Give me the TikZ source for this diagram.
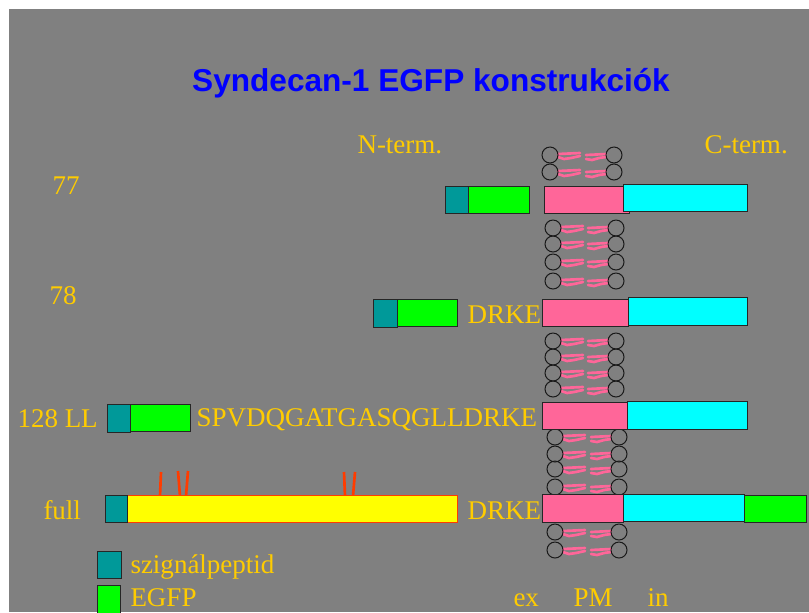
\documentclass[tikz,border=0pt]{standalone}
\usepackage{fontspec}
\setmainfont{Liberation Serif}
\newfontfamily\headfont{Liberation Sans}

\definecolor{slidegray}{RGB}{128,128,128}
\definecolor{gold}{RGB}{255,204,0}
\definecolor{sigteal}{RGB}{0,153,153}
\definecolor{egfpgreen}{RGB}{0,255,0}
\definecolor{tmpink}{RGB}{255,102,153}
\definecolor{cytocyan}{RGB}{0,255,255}
\definecolor{ectoyellow}{RGB}{255,255,0}
\definecolor{gagred}{RGB}{255,60,0}

\tikzset{every picture/.style={line width=0.75pt}}

\begin{document}
\begin{tikzpicture}[x=0.75pt,y=0.75pt,yscale=-1,xscale=1,
  lbl/.style={text=gold, font=\fontsize{20.25}{24}\selectfont, inner sep=0pt, anchor=base west},
  dom/.style={draw=black!85, line width=0.75pt},
  head/.style={draw=black!90, line width=0.75pt},
  tail/.style={draw=tmpink, line width=2pt, line join=round, line cap=round}]
	\useasboundingbox (0,0) rectangle (809,612);

	%Shape: Rectangle (slide)
	\fill [white] (0,0) rectangle (809,612);
	\fill [slidegray] (9,9) rectangle (809,612);

	% Text Node
	\node [text={rgb,255:red,0;green,0;blue,255}, font=\headfont\bfseries\fontsize{23.7}{28}\selectfont, inner sep=0pt] (title) at (431,83) {Syndecan-1 EGFP konstrukciók};
	% Text Node
	\node [lbl] (nterm) at (357,153) {N-term.};
	% Text Node
	\node [lbl] (cterm) at (704,153) {C-term.};

	%Membrane: lipid heads and tails
	\foreach \y/\xl/\xr in {155/550/614, 172/550/614,
	                        228/553/616, 244/553/616, 262/553/616, 281/553/616,
	                        341/553/616, 357/553/616, 373/553/616, 389/553/616,
	                        437/555/619, 454/555/619, 469/555/619, 487/555/619,
	                        532/555/619, 550/555/619} {
	  \draw [tail] (\xl+8,\y-1) -- (\xl+30,\y-2) ;
	  \draw [tail] (\xl+8,\y+2) -- (\xl+14,\y+4) -- (\xl+21,\y+3) -- (\xl+30,\y+1) ;
	  \draw [tail] (\xr-8,\y-1) -- (\xr-28,\y) ;
	  \draw [tail] (\xr-8,\y+2) -- (\xr-15,\y+3) -- (\xr-22,\y+5) -- (\xr-28,\y+4) ;
	  \draw [head] (\xl,\y) circle [radius=8] ;
	  \draw [head] (\xr,\y) circle [radius=8] ;
	}

	%Row 77
	\node [lbl] (c77) at (52,194) {77};
	\draw [dom, fill=sigteal] (445,186) rectangle (468,213) ;
	\draw [dom, fill=egfpgreen] (468,186) rectangle (529,213) ;
	\draw [dom, fill=tmpink] (544,186) rectangle (629,213) ;
	\draw [dom, fill=cytocyan] (623,184) rectangle (747,211) ;

	%Row 78
	\node [lbl] (c78) at (49,304) {78};
	\draw [dom, fill=sigteal] (373,299) rectangle (397,327) ;
	\draw [dom, fill=egfpgreen] (397,299) rectangle (457,326) ;
	\node [lbl] (drke78) at (467,323) {DRKE};
	\draw [dom, fill=tmpink] (542,299) rectangle (628,326) ;
	\draw [dom, fill=cytocyan] (628,297) rectangle (747,325) ;

	%Row 128 LL
	\node [lbl] (c128) at (17,427) {128 LL};
	\draw [dom, fill=sigteal] (107,404) rectangle (130,432) ;
	\draw [dom, fill=egfpgreen] (130,404) rectangle (190,431) ;
	\node [lbl] (spv128) at (196,426) {SPVDQGATGASQGLLDRKE};
	\draw [dom, fill=tmpink] (542,402) rectangle (627,429) ;
	\draw [dom, fill=cytocyan] (627,401) rectangle (747,429) ;

	%Row full
	\node [lbl] (cfull) at (43,519) {full};
	\draw [gagred, line width=2pt] (161,472) -- (160,496) (178,471) -- (180,496) (188,471) -- (186,496)
	      (344,472) -- (345,496) (355,472) -- (353,496) ;
	\draw [draw=gagred, fill=ectoyellow] (127,495) rectangle (457,522) ;
	\draw [dom, fill=sigteal] (105,495) rectangle (127,522) ;
	\node [lbl] (drkefull) at (467,519) {DRKE};
	\draw [dom, fill=tmpink] (542,494) rectangle (623,522) ;
	\draw [dom, fill=cytocyan] (623,494) rectangle (744,521) ;
	\draw [dom, fill=egfpgreen] (744,495) rectangle (806,522) ;

	%Legend
	\draw [dom, fill=sigteal] (97,551) rectangle (121,578) ;
	\node [lbl] (legsig) at (130,573) {szignálpeptid};
	\draw [dom, fill=egfpgreen] (97,585) rectangle (120,615) ;
	\node [lbl] (legegfp) at (130,606) {EGFP};

	% Text Node
	\node [lbl] (ex) at (513,606) {ex};
	\node [lbl] (pm) at (573,606) {PM};
	\node [lbl] (in) at (647,606) {in};

\end{tikzpicture}
\end{document}
